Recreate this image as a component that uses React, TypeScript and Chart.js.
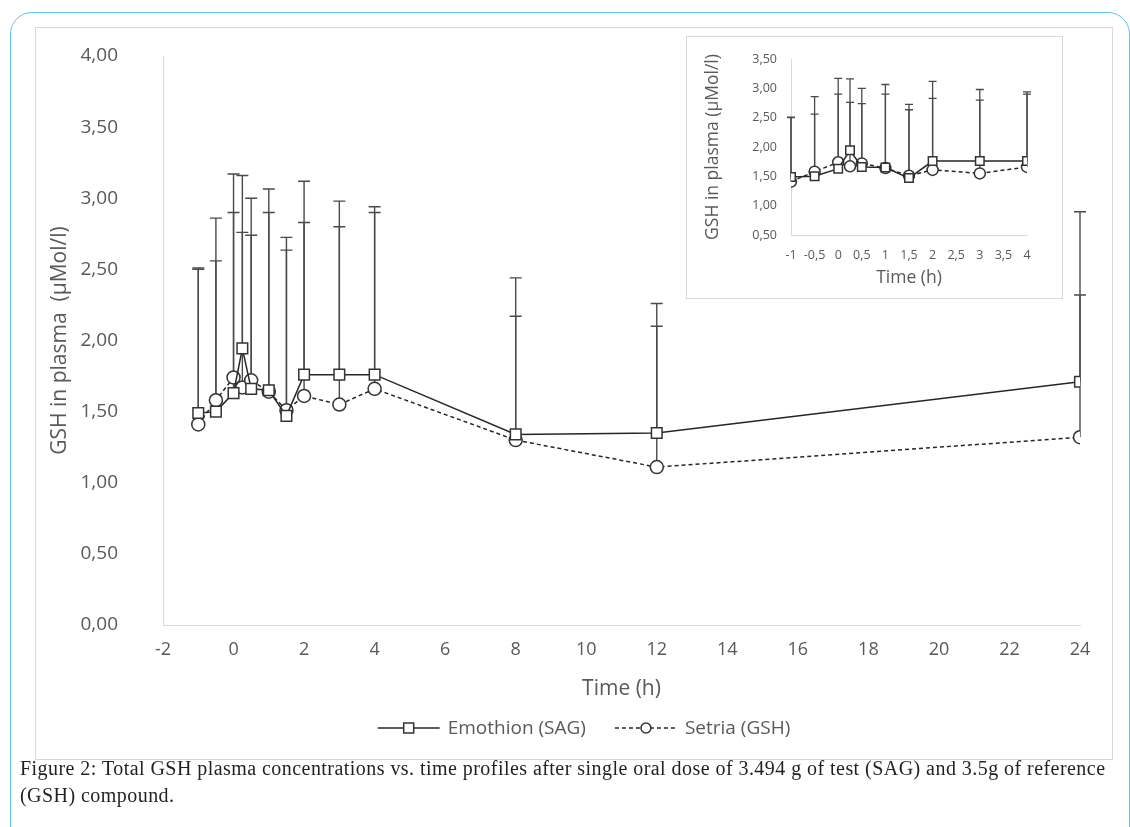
import React, { useEffect, useRef } from "react";
import { Chart, registerables } from "chart.js";

Chart.register(...registerables);

// ---------- data ----------
const times = [-1, -0.5, 0, 0.25, 0.5, 1, 1.5, 2, 3, 4, 8, 12, 24];
const emothion = [1.49, 1.5, 1.63, 1.945, 1.66, 1.65, 1.47, 1.76, 1.76, 1.76, 1.34, 1.35, 1.71];
const emothionSD = [1.02, 1.36, 1.54, 1.215, 1.34, 1.415, 1.255, 1.36, 1.22, 1.18, 1.1, 0.91, 1.195];
const setria = [1.41, 1.58, 1.74, 1.67, 1.72, 1.64, 1.51, 1.61, 1.55, 1.66, 1.3, 1.11, 1.32];
const setriaSD = [1.09, 0.98, 1.16, 1.09, 1.02, 1.26, 1.125, 1.22, 1.25, 1.24, 0.87, 0.99, 1.0];

const mainXTicks = [-2, 0, 2, 4, 6, 8, 10, 12, 14, 16, 18, 20, 22, 24];
const mainYTicks = [0, 0.5, 1, 1.5, 2, 2.5, 3, 3.5, 4];
const insetXTicks = [-1, -0.5, 0, 0.5, 1, 1.5, 2, 2.5, 3, 3.5, 4];
const insetYTicks = [0.5, 1, 1.5, 2, 2.5, 3, 3.5];
const insetPointCount = 10; // points up to 4 h

const seriesLabels = ["Emothion (SAG)", "Setria (GSH)"];
const xTitle = "Time (h)";
const yTitleMain = "GSH in plasma  (µMol/l)";
const yTitleInset = "GSH in plasma (µMol/l)";
const captionLine1 =
  "Figure 2: Total GSH plasma concentrations vs. time profiles after single oral dose of 3.494 g of test (SAG) and 3.5g of reference";
const captionLine2 = "(GSH) compound.";

// ---------- styling ----------
const FONT = "'Open Sans', sans-serif";
const TEXT = "#595959";
const LINE = "#262626";
const AXIS = "#d9d9d9";

const fmtComma2 = (v: number) => v.toFixed(2).replace(".", ",");
const fmtComma = (v: number) => String(v).replace(".", ",");

const errorBarPlugin = {
  id: "errorBars",
  beforeDatasetsDraw(chart: any, _a: any, o: any) {
    const { ctx, chartArea: ca } = chart;
    const xs = chart.scales.x;
    const ys = chart.scales.y;
    ctx.save();
    ctx.beginPath();
    ctx.rect(ca.left - 8, ca.top - 2, ca.right - ca.left + 16, ca.bottom - ca.top + 4);
    ctx.clip();
    ctx.strokeStyle = o.color;
    ctx.lineWidth = o.width;
    chart.data.datasets.forEach((ds: any) => {
      if (!ds.sd) return;
      ds.data.forEach((p: any, i: number) => {
        const x = xs.getPixelForValue(p.x);
        const y0 = ys.getPixelForValue(p.y);
        const y1 = ys.getPixelForValue(p.y + ds.sd[i]);
        ctx.beginPath();
        ctx.moveTo(x, y0);
        ctx.lineTo(x, y1);
        ctx.moveTo(x - o.cap, y1);
        ctx.lineTo(x + o.cap, y1);
        ctx.stroke();
      });
    });
    ctx.restore();
  },
};

function drawMarker(ctx: any, style: string, x: number, y: number, size: number) {
  ctx.beginPath();
  if (style === "rect") {
    ctx.rect(x - size / 2, y - size / 2, size, size);
  } else {
    ctx.arc(x, y, size / 2, 0, Math.PI * 2);
  }
  ctx.fillStyle = "#ffffff";
  ctx.fill();
  ctx.stroke();
}

const decorPlugin = {
  id: "decor",
  afterDraw(chart: any, _a: any, o: any) {
    const { ctx, chartArea: ca } = chart;
    ctx.save();
    ctx.fillStyle = TEXT;
    ctx.font = `${o.titleSize}px ${FONT}`;
    ctx.textAlign = "center";
    ctx.textBaseline = "middle";
    ctx.fillText(o.xTitle, (ca.left + ca.right) / 2, ca.bottom + o.xTitleOffset);
    ctx.save();
    ctx.translate(o.yTitleX, (ca.top + ca.bottom) / 2);
    ctx.rotate(-Math.PI / 2);
    ctx.fillText(o.yTitle, 0, 0);
    ctx.restore();

    if (o.legend) {
      const lg = o.legend;
      ctx.font = `${lg.size}px ${FONT}`;
      const ds = chart.data.datasets;
      const widths = ds.map((d: any) => ctx.measureText(d.label).width);
      const itemW = widths.map((w: number) => lg.lineLen + lg.gap + w);
      const total = itemW.reduce((a: number, b: number) => a + b, 0) + lg.itemGap * (ds.length - 1);
      let x = lg.centerX - total / 2;
      const y = lg.y;
      ds.forEach((d: any, i: number) => {
        ctx.strokeStyle = d.borderColor;
        ctx.lineWidth = d.borderWidth;
        ctx.setLineDash(d.borderDash || []);
        ctx.beginPath();
        ctx.moveTo(x, y);
        ctx.lineTo(x + lg.lineLen, y);
        ctx.stroke();
        ctx.setLineDash([]);
        ctx.strokeStyle = d.pointBorderColor;
        ctx.lineWidth = d.pointBorderWidth;
        drawMarker(ctx, d.pointStyle, x + lg.lineLen / 2, y, lg.marker);
        ctx.fillStyle = TEXT;
        ctx.textAlign = "left";
        ctx.textBaseline = "middle";
        ctx.fillText(d.label, x + lg.lineLen + lg.gap, y + 1);
        x += itemW[i] + lg.itemGap;
      });
    }
    ctx.restore();
  },
};

function makeDatasets(n: number, pr: { rect: number; circle: number }) {
  return [
    {
      label: seriesLabels[0],
      data: times.slice(0, n).map((t, i) => ({ x: t, y: emothion[i] })),
      sd: emothionSD.slice(0, n),
      borderColor: LINE,
      borderWidth: 1.5,
      pointStyle: "rect",
      pointRadius: pr.rect,
      pointBackgroundColor: "#ffffff",
      pointBorderColor: "#333333",
      pointBorderWidth: 1.5,
      tension: 0,
    },
    {
      label: seriesLabels[1],
      data: times.slice(0, n).map((t, i) => ({ x: t, y: setria[i] })),
      sd: setriaSD.slice(0, n),
      borderColor: LINE,
      borderWidth: 1.5,
      borderDash: [4, 3],
      pointStyle: "circle",
      pointRadius: pr.circle,
      pointBackgroundColor: "#ffffff",
      pointBorderColor: "#333333",
      pointBorderWidth: 1.5,
      tension: 0,
    },
  ];
}

function axis(opts: any) {
  return {
    type: "linear",
    min: opts.min,
    max: opts.max,
    afterBuildTicks: (s: any) => {
      s.ticks = opts.ticks.map((v: number) => ({ value: v }));
    },
    afterFit: opts.afterFit,
    grid: { display: false, drawTicks: false },
    border: { display: true, color: AXIS, width: 1 },
    ticks: {
      padding: opts.padding,
      color: TEXT,
      font: { family: FONT, size: opts.size },
      maxRotation: 0,
      autoSkip: false,
      callback: opts.fmt,
    },
  };
}

export default function App() {
  const mainRef = useRef<HTMLCanvasElement>(null);
  const insetRef = useRef<HTMLCanvasElement>(null);

  useEffect(() => {
    const main = new Chart(mainRef.current as any, {
      type: "line",
      data: { datasets: makeDatasets(times.length, { rect: 7.5, circle: 6.5 }) as any },
      options: {
        animation: false,
        responsive: false,
        maintainAspectRatio: false,
        layout: { padding: { left: 0, right: 32, top: 28, bottom: 0 } },
        plugins: {
          legend: { display: false },
          tooltip: { enabled: false },
          errorBars: { cap: 6, color: "#4a4a4a", width: 1.4 },
          decor: {
            xTitle,
            yTitle: yTitleMain,
            titleSize: 21,
            xTitleOffset: 64,
            yTitleX: 24,
            legend: { size: 19, lineLen: 62, gap: 8, itemGap: 29, marker: 10, centerX: 548, y: 700 },
          },
        } as any,
        scales: {
          x: axis({
            min: -2,
            max: 24,
            ticks: mainXTicks,
            padding: 14,
            size: 18,
            fmt: (v: any) => fmtComma(Number(v)),
            afterFit: (s: any) => {
              s.height = 134;
            },
          }),
          y: axis({
            min: 0,
            max: 4,
            ticks: mainYTicks,
            padding: 45,
            size: 19,
            fmt: (v: any) => fmtComma2(Number(v)),
            afterFit: (s: any) => {
              s.width = 127;
              s.paddingTop = 0;
              s.paddingBottom = 0;
            },
          }),
        } as any,
      },
      plugins: [errorBarPlugin, decorPlugin],
    } as any);

    const inset = new Chart(insetRef.current as any, {
      type: "line",
      data: { datasets: makeDatasets(insetPointCount, { rect: 6, circle: 5.5 }) as any },
      options: {
        animation: false,
        responsive: false,
        maintainAspectRatio: false,
        layout: { padding: { left: 0, right: 35, top: 22, bottom: 0 } },
        plugins: {
          legend: { display: false },
          tooltip: { enabled: false },
          errorBars: { cap: 4, color: "#4a4a4a", width: 1.3 },
          decor: {
            xTitle,
            yTitle: yTitleInset,
            titleSize: 17.5,
            xTitleOffset: 43,
            yTitleX: 26,
          },
        } as any,
        scales: {
          x: axis({
            min: -1,
            max: 4,
            ticks: insetXTicks,
            padding: 13,
            size: 12.5,
            fmt: (v: any) => fmtComma(Number(v)),
            afterFit: (s: any) => {
              s.height = 63;
            },
          }),
          y: axis({
            min: 0.5,
            max: 3.5,
            ticks: insetYTicks,
            padding: 14,
            size: 12.5,
            fmt: (v: any) => fmtComma2(Number(v)),
            afterFit: (s: any) => {
              s.width = 104;
              s.paddingTop = 0;
              s.paddingBottom = 0;
            },
          }),
        } as any,
      },
      plugins: [errorBarPlugin, decorPlugin],
    } as any);

    return () => {
      main.destroy();
      inset.destroy();
    };
  }, []);

  return (
    <div
      style={{
        position: "absolute",
        left: 0,
        top: 0,
        width: 1130,
        height: 827,
        overflow: "hidden",
        background: "#ffffff",
      }}
    >
      <div
        style={{
          position: "absolute",
          left: 10,
          top: 12,
          width: 1120,
          height: 850,
          border: "1.5px solid #5cc4ef",
          borderRadius: 22,
          boxSizing: "border-box",
        }}
      />
      <div
        style={{
          position: "absolute",
          left: 35,
          top: 27,
          width: 1078,
          height: 733,
          border: "1px solid #d9d9d9",
          boxSizing: "border-box",
          background: "#ffffff",
        }}
      >
        <canvas ref={mainRef} width={1076} height={731} style={{ display: "block" }} />
      </div>
      <div
        style={{
          position: "absolute",
          left: 686,
          top: 36,
          width: 377,
          height: 263,
          border: "1px solid #d9d9d9",
          boxSizing: "border-box",
          background: "#ffffff",
        }}
      >
        <canvas ref={insetRef} width={375} height={261} style={{ display: "block" }} />
      </div>
      <div
        style={{
          position: "absolute",
          left: 20,
          top: 755,
          fontFamily: "'Liberation Serif', serif",
          fontSize: 20,
          letterSpacing: "0.45px",
          lineHeight: "27px",
          color: "#231f20",
          whiteSpace: "nowrap",
        }}
      >
        <div>{captionLine1}</div>
        <div>{captionLine2}</div>
      </div>
    </div>
  );
}
